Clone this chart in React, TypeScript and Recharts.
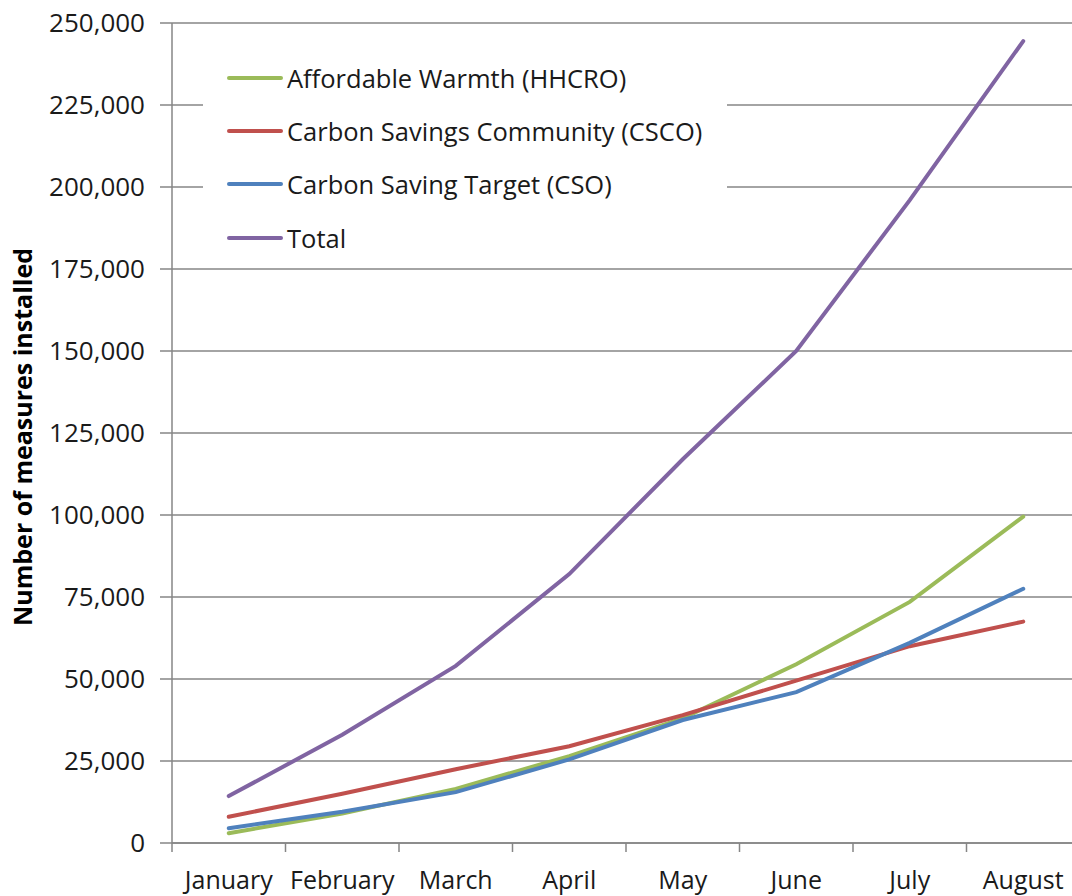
import React from 'react';
import { LineChart, Line, XAxis, YAxis, CartesianGrid, Legend } from 'recharts';

const months = ['January', 'February', 'March', 'April', 'May', 'June', 'July', 'August'];
const hhcro = [3000, 9000, 16500, 26500, 38000, 54500, 73500, 99500];
const csco = [8000, 15000, 22500, 29500, 39000, 49500, 60000, 67500];
const cso = [4500, 9500, 15500, 25500, 37500, 46000, 61000, 77500];
const total = [14300, 33000, 54000, 82000, 117000, 150000, 196000, 244500];
const yTicks = [0, 25000, 50000, 75000, 100000, 125000, 150000, 175000, 200000, 225000, 250000];

const seriesNames = {
  hhcro: 'Affordable Warmth (HHCRO)',
  csco: 'Carbon Savings Community (CSCO)',
  cso: 'Carbon Saving Target (CSO)',
  total: 'Total',
};
const colors = { hhcro: '#9BBB59', csco: '#C0504D', cso: '#4F81BD', total: '#8064A2' };

const data = months.map((m, i) => ({
  month: m,
  hhcro: hhcro[i],
  csco: csco[i],
  cso: cso[i],
  total: total[i],
}));

const FONT = '"Open Sans", sans-serif';
const AXIS = '#868686';

const XTick = (props: any) => {
  const { x, y, payload } = props;
  const off = payload.offset || 0;
  return (
    <g>
      <line x1={x - off} x2={x - off} y1={y} y2={y + 9} stroke={AXIS} strokeWidth={1.5} />
      <text x={x} y={y + 46} textAnchor="middle" fontFamily={FONT} fontSize={25} fill="#1a1a1a">
        {payload.value}
      </text>
    </g>
  );
};

const LegendBox = () => {
  const keys = ['hhcro', 'csco', 'cso', 'total'] as const;
  return (
    <div style={{ background: '#fff', width: 524, height: 215, paddingTop: 1, boxSizing: 'border-box' }}>
      {keys.map((k) => (
        <div key={k} style={{ display: 'flex', alignItems: 'center', height: 53.3 }}>
          <div style={{ marginLeft: 24, width: 56, height: 4, borderRadius: 2, background: colors[k] }} />
          <span style={{ marginLeft: 4, fontFamily: FONT, fontSize: 25.5, color: '#1a1a1a', whiteSpace: 'nowrap' }}>
            {seriesNames[k]}
          </span>
        </div>
      ))}
    </div>
  );
};

const YLabel = (props: any) => {
  const vb = props.viewBox || {};
  const cy = (vb.y || 0) + (vb.height || 0) / 2 + 4;
  return (
    <text
      x={22}
      y={cy}
      transform={`rotate(-90 22 ${cy})`}
      textAnchor="middle"
      dominantBaseline="central"
      fontFamily={FONT}
      fontWeight="bold"
      fontSize={25}
      fill="#000"
    >
      Number of measures installed
    </text>
  );
};

export default function App() {
  return (
    <div style={{ position: 'absolute', left: 0, top: 0, width: 1072, height: 896, overflow: 'hidden', background: '#fff' }}>
      <LineChart width={1082} height={896} data={data} margin={{ top: 23, right: 2, bottom: 0, left: 0 }}>
        <CartesianGrid vertical={false} stroke={AXIS} strokeWidth={1.5} />
        <XAxis
          dataKey="month"
          scale="band"
          height={53}
          axisLine={{ stroke: AXIS, strokeWidth: 1.5 }}
          tickLine={false}
          tickSize={0}
          tickMargin={0}
          tick={<XTick />}
          interval={0}
        />
        <YAxis
          width={172}
          domain={[0, 250000]}
          ticks={yTicks}
          interval={0}
          axisLine={{ stroke: AXIS, strokeWidth: 1.5 }}
          tickLine={{ stroke: AXIS, strokeWidth: 1.5 }}
          tickSize={12}
          tickMargin={15}
          tickFormatter={(v: number) => v.toLocaleString('en-US')}
          tick={{ fontFamily: FONT, fontSize: 26, fill: '#1a1a1a' }}
          label={<YLabel />}
        />
        <Legend
          layout="vertical"
          verticalAlign="middle"
          align="center"
          content={<LegendBox />}
          wrapperStyle={{ left: 203, top: 50, width: 524, height: 215 }}
        />
        <Line type="linear" dataKey="hhcro" stroke={colors.hhcro} strokeWidth={4} dot={false} isAnimationActive={false} strokeLinecap="round" />
        <Line type="linear" dataKey="csco" stroke={colors.csco} strokeWidth={4} dot={false} isAnimationActive={false} strokeLinecap="round" />
        <Line type="linear" dataKey="cso" stroke={colors.cso} strokeWidth={4} dot={false} isAnimationActive={false} strokeLinecap="round" />
        <Line type="linear" dataKey="total" stroke={colors.total} strokeWidth={4} dot={false} isAnimationActive={false} strokeLinecap="round" />
      </LineChart>
    </div>
  );
}
